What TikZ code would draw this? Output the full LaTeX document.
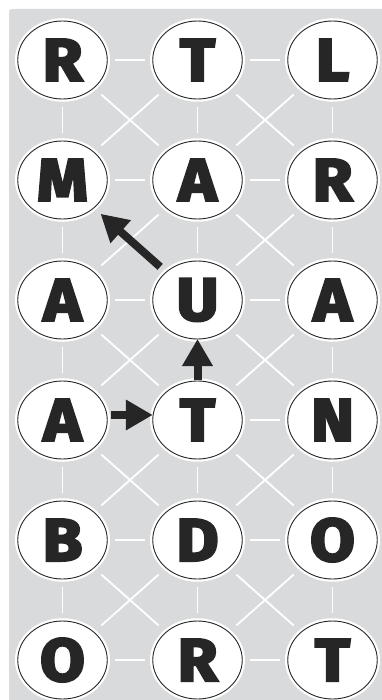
\documentclass[tikz,border=0pt]{standalone}
\usepackage{fontspec}
\newfontfamily\letterfont{Fira Sans}[BoldFeatures={FakeBold=4,FakeStretch=1.08}]
\usetikzlibrary{shapes.geometric,arrows.meta}
\definecolor{bggray}{RGB}{217,218,220}
\definecolor{ink}{RGB}{38,38,38}
\begin{document}
\begin{tikzpicture}[x=1pt,y=-1pt,
  cell/.style={ellipse, draw=ink, line width=0.9pt, fill=white,
    minimum width=89.5pt, minimum height=78pt, inner sep=0pt, outer sep=0pt,
    font={\letterfont\bfseries\fontsize{60pt}{60pt}\selectfont}, text=ink,
    preaction={draw=white, line width=5.5pt}},
  link/.style={draw=white, line width=1.8pt, shorten >=8pt, shorten <=8pt},
  diag/.style={link, shorten >=10pt, shorten <=10pt},
  move/.style={draw=ink, line width=8pt, -{Triangle[length=27pt,width=29pt]}}]
\useasboundingbox (0,0) rectangle (382,700);
\fill[bggray] (9,700) -- (9,15) .. controls (9,9) .. (15,9) -- (382,9) -- (382,700) -- cycle;
% letters
\node[cell] (n11) at (62.5,60) {R};
\node[cell] (n12) at (197.5,60) {T};
\node[cell] (n13) at (332.5,60) {L};
\node[cell] (n21) at (62.5,180) {M};
\node[cell] (n22) at (197.5,180) {A};
\node[cell] (n23) at (332.5,180) {R};
\node[cell] (n31) at (62.5,300) {A};
\node[cell] (n32) at (197.5,300) {U};
\node[cell] (n33) at (332.5,300) {A};
\node[cell] (n41) at (62.5,420) {A};
\node[cell] (n42) at (197.5,420) {T};
\node[cell] (n43) at (332.5,420) {N};
\node[cell] (n51) at (62.5,540) {B};
\node[cell] (n52) at (197.5,540) {D};
\node[cell] (n53) at (332.5,540) {O};
\node[cell] (n61) at (62.5,660) {O};
\node[cell] (n62) at (197.5,660) {R};
\node[cell] (n63) at (332.5,660) {T};
% horizontal links
\foreach \r in {1,2,3,5,6}{
  \draw[link] (n\r1) -- (n\r2);
}
\foreach \r in {1,2,3,4,5,6}{
  \draw[link] (n\r2) -- (n\r3);
}
% vertical links
\foreach \r/\s in {1/2,2/3,3/4,4/5,5/6}{
  \draw[link] (n\r1) -- (n\s1);
  \draw[link] (n\r3) -- (n\s3);
}
\foreach \r/\s in {1/2,2/3,4/5,5/6}{
  \draw[link] (n\r2) -- (n\s2);
}
% diagonal links
\foreach \r/\s in {1/2,2/3,3/4,4/5,5/6}{
  \draw[diag] (n\r2) -- (n\s1);
  \draw[diag] (n\r3) -- (n\s2);
  \draw[diag] (n\r2) -- (n\s3);
}
\foreach \r/\s in {1/2,3/4,4/5,5/6}{
  \draw[diag] (n\r1) -- (n\s2);
}
% path arrows
\draw[move, shorten <=3.5pt] ([yshift=5pt]n41.east) -- ([yshift=5pt]n42.west);
\draw[move, shorten <=1pt] (n42.north) -- (n32.south);
\draw[move, shorten <=8pt, shorten >=9pt] (n32) -- (n21);
\end{tikzpicture}
\end{document}
